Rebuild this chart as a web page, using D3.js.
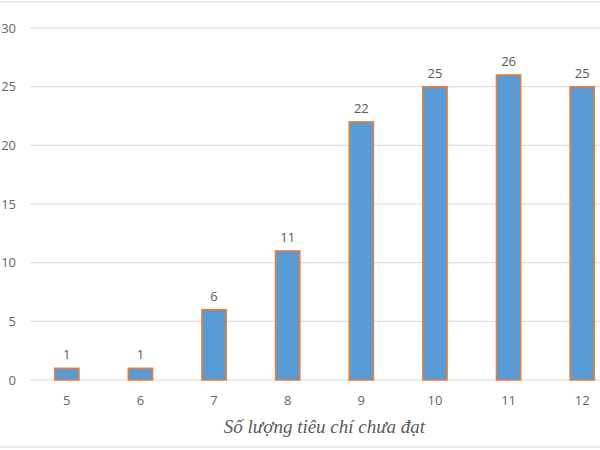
<!DOCTYPE html>
<html lang="vi">
<head>
  <meta charset="UTF-8" />
  <title>Số lượng tiêu chí chưa đạt</title>
  <script src="https://d3js.org/d3.v7.min.js"></script>
  <style>
    body { margin: 0; padding: 0; background: white; }
    svg { display: block; background: white; }
    .grid-line { stroke: #d9d9d9; stroke-width: 1px; }
    .tick-label { fill: #666; font-family: "Open Sans", sans-serif; font-size: 13px; }
    .bar { fill: #5b9bd5; stroke: #ed7d31; stroke-width: 1.5px; }
    .value-label { fill: #595959; font-family: "Open Sans", sans-serif; font-size: 13px; }
    .x-title { fill: #595959; font-family: "Liberation Serif", serif; font-style: italic; font-size: 19px; }
  </style>
</head>
<body>
  <svg id="chart" width="600" height="450"></svg>
  <script>
    const categories = ["5", "6", "7", "8", "9", "10", "11", "12"];
    const counts = [1, 1, 6, 11, 22, 25, 26, 25];
    const yTicks = [0, 5, 10, 15, 20, 25, 30];
    const xTitle = "Số lượng tiêu chí chưa đạt";

    const margin = { top: 28, left: 30 };
    const plotHeight = 352;
    const plotWidth = 589; // chart runs past the right edge of the frame

    const svg = d3.select("#chart");

    // outer frame lines (top and bottom visible)
    svg.append("line").attr("x1", 0).attr("x2", 600).attr("y1", 2).attr("y2", 2)
      .attr("stroke", "#d9d9d9");
    svg.append("line").attr("x1", 0).attr("x2", 600).attr("y1", 447).attr("y2", 447)
      .attr("stroke", "#d9d9d9");

    const g = svg.append("g")
      .attr("transform", `translate(${margin.left},${margin.top})`);

    const x = d3.scaleBand().domain(categories).range([0, plotWidth]).paddingInner(0.67).paddingOuter(0.335);
    const y = d3.scaleLinear().domain([0, 30]).range([plotHeight, 0]);

    // gridlines
    g.selectAll(".grid-line")
      .data(yTicks)
      .join("line")
      .attr("class", "grid-line")
      .attr("x1", 0)
      .attr("x2", plotWidth)
      .attr("y1", d => y(d))
      .attr("y2", d => y(d));

    // y tick labels
    g.selectAll(".y-label")
      .data(yTicks)
      .join("text")
      .attr("class", "tick-label")
      .attr("x", -14)
      .attr("y", d => y(d))
      .attr("dy", "0.35em")
      .attr("text-anchor", "end")
      .text(d => d);

    // bars
    g.selectAll(".bar")
      .data(counts)
      .join("rect")
      .attr("class", "bar")
      .attr("x", (d, i) => x(categories[i]))
      .attr("width", x.bandwidth())
      .attr("y", d => y(d))
      .attr("height", d => y(0) - y(d));

    // value labels
    g.selectAll(".value-label")
      .data(counts)
      .join("text")
      .attr("class", "value-label")
      .attr("x", (d, i) => x(categories[i]) + x.bandwidth() / 2)
      .attr("y", d => y(d) - 9)
      .attr("text-anchor", "middle")
      .text(d => d);

    // x tick labels
    g.selectAll(".x-label")
      .data(categories)
      .join("text")
      .attr("class", "tick-label")
      .attr("x", d => x(d) + x.bandwidth() / 2)
      .attr("y", plotHeight + 20)
      .attr("dy", "0.35em")
      .attr("text-anchor", "middle")
      .text(d => d);

    // x axis title
    g.append("text")
      .attr("class", "x-title")
      .attr("x", plotWidth / 2)
      .attr("y", plotHeight + 53)
      .attr("text-anchor", "middle")
      .text(xTitle);
  </script>
</body>
</html>
